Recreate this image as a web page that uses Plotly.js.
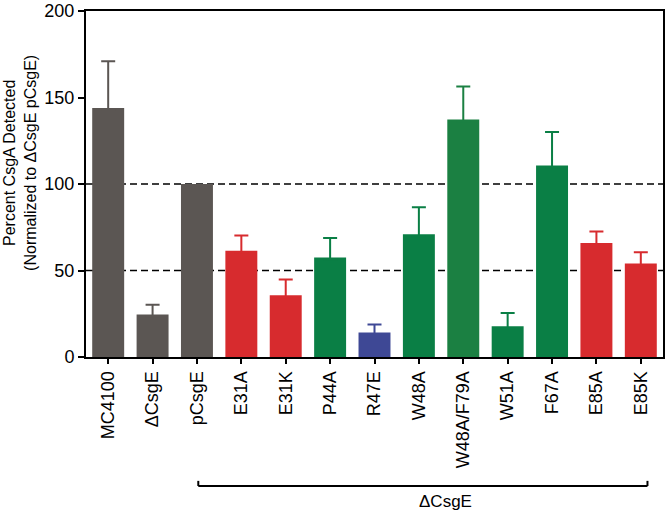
<!DOCTYPE html>
<html>
<head>
<meta charset="utf-8">
<script src="https://cdn.plot.ly/plotly-3.0.1.min.js"></script>
<style>html,body{margin:0;padding:0;background:#fff;}#chart{width:666px;height:514px;}</style>
</head>
<body>
<div id="chart"></div>
<script>
const categories = ["MC4100", "ΔCsgE", "pCsgE", "E31A", "E31K", "P44A", "R47E", "W48A", "W48A/F79A", "W51A", "F67A", "E85A", "E85K"];
const values = [144, 24.5, 100, 61.4, 35.7, 57.5, 14.2, 71, 137.3, 17.8, 110.7, 65.9, 54];
const errorTops = [171, 30.2, 100, 70.3, 44.8, 68.8, 18.8, 86.6, 156.3, 25.5, 130, 72.5, 60.6];
const colors = ["#5b5653", "#5b5653", "#5b5653", "#d72b2e", "#d72b2e", "#0a7f45", "#3e4895", "#0a7f45", "#1b8042", "#0a7f45", "#0a7f45", "#d72b2e", "#d72b2e"];
const referenceLines = [100, 50];
const yTicks = [0, 50, 100, 150, 200];
const bracketLabel = "ΔCsgE";

const traces = categories.map((c, i) => ({
  type: 'bar',
  x: [c],
  y: [values[i]],
  width: 0.72,
  marker: {color: colors[i], line: {width: 0}},
  error_y: {
    type: 'data', symmetric: false,
    array: [errorTops[i] - values[i]], arrayminus: [1.2],
    visible: errorTops[i] > values[i],
    color: colors[i], thickness: 2, width: 7
  },
  showlegend: false,
  hoverinfo: 'x+y'
}));

const shapes = referenceLines.map(v => ({
  type: 'line', xref: 'paper', yref: 'y', x0: 0, x1: 1, y0: v, y1: v,
  line: {color: '#000', width: 1.6, dash: '7px,4px'}, layer: 'below'
}));
// bracket under ΔCsgE group
shapes.push({type: 'line', xref: 'x', yref: 'paper', x0: 2.03, x1: 12.15, y0: -0.3728, y1: -0.3728, line: {color: '#000', width: 2}});
shapes.push({type: 'line', xref: 'x', yref: 'paper', x0: 2.03, x1: 2.03, y0: -0.3728, y1: -0.358, line: {color: '#000', width: 2}});
shapes.push({type: 'line', xref: 'x', yref: 'paper', x0: 12.15, x1: 12.15, y0: -0.3728, y1: -0.358, line: {color: '#000', width: 2}});

const layout = {
  width: 666, height: 514,
  margin: {l: 86, r: 3, t: 11, b: 157},
  paper_bgcolor: '#fff', plot_bgcolor: '#fff',
  font: {family: '"Liberation Sans", Arial, sans-serif', color: '#000', size: 18},
  barmode: 'overlay',
  xaxis: {
    type: 'category', categoryorder: 'array', categoryarray: categories,
    range: [-0.5, 12.5],
    tickangle: -90, tickfont: {size: 18},
    ticks: 'outside', ticklen: 5, tickwidth: 2, tickcolor: '#000',
    showline: true, linecolor: '#000', linewidth: 2, mirror: true,
    showgrid: false, zeroline: false
  },
  yaxis: {
    range: [0, 200], tickmode: 'array', tickvals: yTicks, ticktext: yTicks.map(String),
    tickfont: {size: 18}, ticklabeloverflow: 'allow',
    ticks: 'outside', ticklen: 6, tickwidth: 2, tickcolor: '#000',
    showline: true, linecolor: '#000', linewidth: 2, mirror: true,
    showgrid: false, zeroline: false
  },
  shapes: shapes,
  annotations: [
    {xref: 'paper', yref: 'paper', x: -0.1144, y: 0.561, xanchor: 'center', yanchor: 'middle',
     textangle: -90, showarrow: false, font: {size: 16},
     text: 'Percent CsgA Detected<br>(Normalized to ΔCsgE pCsgE)'},
    {xref: 'x', yref: 'paper', x: 7.6, y: -0.418, xanchor: 'center', yanchor: 'middle',
     showarrow: false, font: {size: 17}, text: bracketLabel}
  ]
};

Plotly.newPlot('chart', traces, layout, {displayModeBar: false, staticPlot: true});
</script>
</body>
</html>
